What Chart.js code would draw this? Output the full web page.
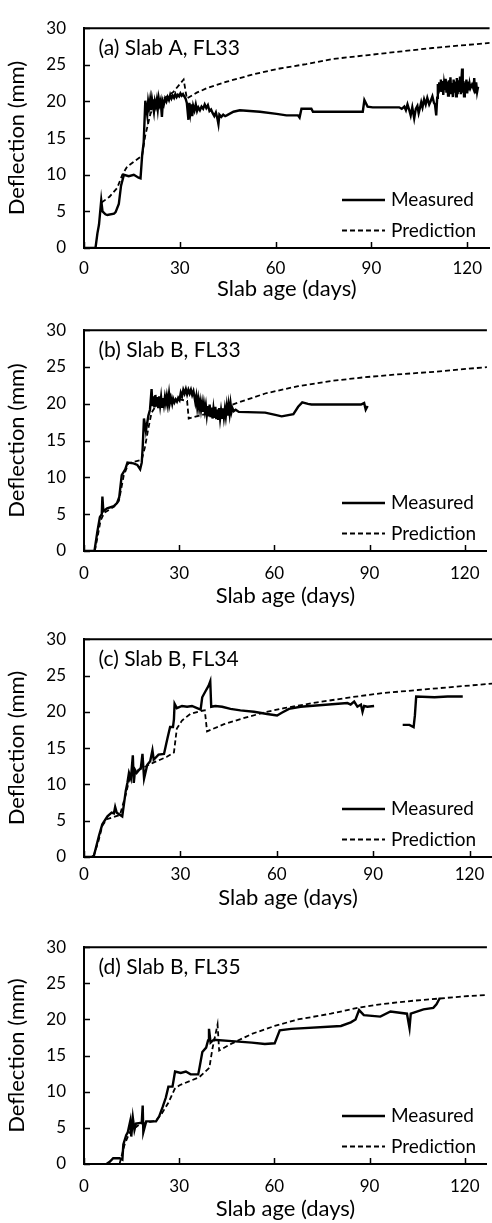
<!DOCTYPE html>
<html><head><meta charset="utf-8">
<script src="https://cdn.jsdelivr.net/npm/chart.js@4.4.0/dist/chart.umd.min.js"></script>
<style>
html,body{margin:0;padding:0;background:#fff;width:492px;height:1223px;overflow:hidden;position:relative}
.p{position:absolute;left:0;width:492px}
canvas{display:block}
</style></head><body>
<div class="p" style="top:0px"><canvas id="c0" width="492" height="302"></canvas></div>
<div class="p" style="top:302px"><canvas id="c1" width="492" height="307"></canvas></div>
<div class="p" style="top:611px"><canvas id="c2" width="492" height="300"></canvas></div>
<div class="p" style="top:919px"><canvas id="c3" width="492" height="303"></canvas></div>
<script>
const xTicks=[0,30,60,90,120];
const yTicks=[0,5,10,15,20,25,30];
const seriesLabels=['Measured','Prediction'];
const panelTitles=['(a) Slab A, FL33','(b) Slab B, FL33','(c) Slab B, FL34','(d) Slab B, FL35'];
const xTitle='Slab age (days)';
const yTitle='Deflection (mm)';

// (a) Slab A, FL33
const aMeasDay=[0,3.6,4.2,4.7,5.4,5.8,6.7,7.3,9.4,9.9,10.9,11.6,12.5,14.0,15.6,17.1,17.7,18.2,18.7,
19.2,19.8,20.1,20.4,20.7,21.0,21.3,21.6,21.9,22.2,22.5,22.8,23.1,23.4,23.7,24.0,24.4,24.7,25.0,25.4,25.8,26.2,26.6,27.0,27.4,27.8,28.2,28.6,29.0,29.4,29.8,30.2,30.6,31.0,31.4,31.8,
32.2,32.7,33.0,33.3,33.6,33.9,34.2,34.6,35.0,35.4,35.8,36.3,36.8,37.3,37.8,38.3,38.8,39.3,39.8,40.3,40.8,41.3,41.8,42.1,42.4,43.0,43.6,44.2,44.7,46.8,48.8,55.1,60.3,63.4,67.0,67.5,68.1,71.2,71.7,87.3,87.8,88.8,90.4,
98.7,99.5,100.3,100.8,101.3,101.8,102.3,102.8,103.4,103.9,104.4,104.8,105.2,105.6,106.0,106.5,107.0,107.5,108.1,108.6,109.1,109.6,109.9,110.3,110.6,110.8,
111.0,111.25,111.5,111.75,112.0,112.25,112.5,112.75,113.0,113.25,113.5,113.75,114.0,114.25,114.5,114.75,115.0,115.25,115.5,115.75,116.0,116.25,116.5,116.75,117.0,117.25,117.5,117.75,118.0,118.2,118.4,118.6,118.8,119.0,119.25,119.5,119.75,120.0,120.25,120.5,120.75,121.0,121.5,122.0,122.2,122.5,122.8,123.1,123.4];
const aMeas=[0,0,2.0,3.2,6.5,5.0,4.6,4.5,4.7,4.9,6.0,8.5,10.0,9.8,10.0,9.6,9.5,12.6,14.5,
20.1,18.2,20.0,19.2,20.2,18.8,20.3,19.5,18.6,20.0,19.4,20.2,19.0,20.4,19.6,20.1,17.9,20.0,19.6,20.4,20.0,20.6,20.2,20.9,20.4,20.8,20.5,21.0,20.6,20.9,20.7,21.1,20.8,21.0,20.7,20.4,
19.8,17.5,19.8,18.5,19.6,18.0,19.4,18.8,19.6,18.7,19.2,18.8,19.3,19.0,19.6,19.1,19.5,18.7,18.9,18.4,18.0,18.5,17.6,16.9,18.2,17.9,18.2,18.0,18.1,18.6,18.8,18.6,18.3,18.1,18.1,17.8,19.0,19.0,18.6,18.6,20.2,19.3,19.2,
19.2,19.0,19.3,18.8,19.6,18.9,18.1,19.2,17.7,19.0,19.4,18.4,19.1,19.9,19.2,20.3,19.6,20.5,19.6,20.1,20.7,19.8,19.6,18.1,20.5,22.4,
21.1,22.6,21.5,23.0,21.3,22.8,20.9,22.4,21.6,23.1,21.2,22.7,20.8,22.9,21.4,23.3,21.0,22.5,20.6,23.0,21.2,22.7,20.7,23.2,21.0,22.9,21.3,23.4,21.0,23.0,24.5,21.2,22.8,20.7,22.6,21.4,23.0,21.1,22.7,21.5,22.4,21.8,22.3,21.7,23.2,21.1,22.6,21.3,22.0];
const aPredDay=[5.5,8.0,10.4,12.0,13.5,16.0,18.2,19.2,20.8,22.3,25.0,28.0,31.2,32.2,35.3,38.4,44.7,53.0,61.3,69.6,77.9,88.3,98.7,109.1,119.5,127.4];
const aPred=[6.2,7.0,8.2,10.0,11.1,11.9,12.6,15.4,18.3,19.8,20.4,21.3,23.0,20.4,21.2,21.8,22.7,23.7,24.5,25.1,25.8,26.3,26.8,27.3,27.7,28.0];

// (b) Slab B, FL33
const bMeasDay=[0,3.3,4.2,5.0,5.6,5.8,6.1,7.3,9.4,10.4,11.1,11.9,13.0,13.7,15.6,16.8,17.7,18.2,18.5,18.9,19.5,
20.3,20.8,21.3,21.6,21.9,22.2,22.5,22.8,23.1,23.4,23.7,24.0,24.3,24.6,24.9,25.2,25.5,25.8,26.1,26.4,26.8,27.1,27.4,27.8,28.1,28.5,28.9,29.3,29.7,30.1,30.5,30.9,31.3,31.7,32.1,32.5,32.9,33.3,33.7,34.1,34.5,34.8,35.1,35.4,35.7,36.0,36.3,36.6,36.9,37.2,37.5,37.8,38.1,38.4,38.7,39.0,39.3,39.6,39.9,40.2,40.5,40.8,41.1,41.4,41.7,42.0,42.3,42.6,42.9,43.2,43.5,43.8,44.1,44.4,44.7,45.0,45.3,45.6,45.9,46.2,46.5,46.8,47.2,47.8,48.8,
57.1,60.3,62.3,66.0,67.5,68.8,70.6,71.7,87.3,88.3,88.8,89.4];
const bMeas=[0,0,2.6,4.6,5.0,7.4,5.4,5.8,6.1,6.5,7.3,10.3,11.1,12.0,11.9,11.7,11.1,12.0,14.1,18.0,16.3,
18.4,19.2,22.0,19.7,21.0,19.5,21.2,19.6,20.9,19.4,21.0,19.8,20.9,19.6,20.8,19.9,20.9,20.1,21.0,20.0,21.4,20.2,20.8,20.0,20.7,20.2,20.6,20.3,20.8,20.5,21.5,21.0,21.9,21.4,22.0,21.3,21.9,21.4,21.9,21.2,21.7,21.0,20.2,21.0,19.6,20.6,19.4,20.3,19.2,20.1,18.9,20.0,19.0,19.8,18.5,19.7,18.3,19.9,18.2,19.5,18.0,19.3,18.1,19.6,17.9,19.2,17.8,19.4,18.0,19.1,18.1,19.4,18.2,19.3,18.3,19.6,18.4,19.8,18.7,20.0,18.9,19.4,19.0,19.2,18.9,
18.8,18.5,18.3,18.6,19.6,20.2,20.0,19.9,19.9,20.1,19.2,19.7];
const bPredDay=[3.4,4.4,5.2,6.4,9.4,11.0,12.5,14.0,18.2,19.2,20.3,21.3,22.9,26.0,30.1,32.5,33.0,36.4,41.6,46.8,57.1,67.5,77.9,88.3,98.7,109.1,119.5,127.4];
const bPred=[0,2.2,4.1,5.2,6.0,6.8,10.2,11.9,12.4,14.1,16.7,18.8,19.9,20.3,20.6,20.4,18.0,18.4,19.0,19.9,21.4,22.4,23.1,23.6,24.0,24.3,24.7,25.0];

// (c) Slab B, FL34
const cMeasDay=[0,2.4,3.1,4.7,5.7,7.3,8.6,9.3,9.7,10.2,11.9,13.0,13.5,14.0,14.6,15.2,15.5,15.9,16.4,17.7,18.2,18.7,19.7,20.6,21.3,21.7,23.2,24.9,25.6,26.0,26.8,27.7,28.0,28.2,28.9,30.5,32.1,33.6,35.2,36.3,36.8,37.9,38.8,39.3,39.6,40.9,43.0,45.6,48.7,52.9,57.0,60.1,61.7,63.8,67.4,82.0,83.0,84.1,85.1,86.2,86.7,87.2,88.2,90.3,95,99.2,101.3,102.6,103.0,103.4,109.1,113.2,117.9];
const cMeas=[0,0,0.2,3.0,4.5,5.6,6.1,6.0,6.9,6.1,5.6,9.1,10.2,11.6,10.8,14.0,10.2,12.0,11.6,12.3,14.2,10.8,12.7,13.2,14.7,13.4,14.1,14.2,15.6,16.4,17.9,17.9,19.0,21.1,20.5,20.8,20.7,20.8,20.5,20.3,22.0,22.9,23.6,24.2,20.7,20.8,20.7,20.4,20.2,20.0,19.7,19.5,19.9,20.4,20.7,21.2,21.0,21.4,20.7,21.0,20.0,20.8,20.7,20.8,null,18.2,18.2,17.9,19.5,22.1,22.0,22.1,22.1];
const cPredDay=[2.9,4.5,5.7,7.1,11.2,13.0,14.5,17.5,21.6,25.8,28.0,28.9,30.5,33.1,36.2,37.6,38.3,43.6,48.7,56.0,62.2,72.6,83.0,93.4,103.9,114.3,127.4];
const cPred=[0,2.2,4.3,5.2,5.8,8.6,11.4,12.1,13.0,13.8,14.4,17.7,18.8,19.7,20.1,20.2,17.3,18.3,19.0,19.9,20.5,21.3,22.0,22.6,23.0,23.4,23.9];

// (d) Slab B, FL35
const dMeasDay=[7.1,8.1,9.2,11.2,12.1,12.4,13.3,13.8,14.6,14.9,15.4,15.9,16.4,18.2,18.5,18.7,19.6,22.7,23.7,24.8,25.8,26.6,27.9,28.7,30.5,32.1,33.6,36.0,36.4,37.3,38.5,39.1,39.4,39.9,40.9,46.6,52.9,57.0,60.1,61.7,65.3,81.0,84.1,85.6,86.7,88.2,93.4,96.6,101.8,102.6,103.0,107.0,110.1,111.1,112.2];
const dMeas=[0,0.3,0.8,0.8,0.6,2.7,4.0,4.4,6.0,3.8,6.4,4.7,5.6,5.7,8.1,4.4,5.9,5.9,6.6,7.9,9.2,10.7,10.7,12.8,12.6,12.8,12.4,12.4,13.3,15.5,16.1,17.1,18.7,16.8,17.2,17.0,16.8,16.6,16.7,18.5,18.7,19.1,19.6,20.0,21.3,20.6,20.4,21.1,20.8,18.8,20.8,21.4,21.6,22.1,23.0];
const dPredDay=[11.2,12.8,14.4,17.5,22.7,24.4,26.5,28.6,30.1,36.3,39.5,40.5,42.1,42.6,46.7,52.9,60.1,67.4,77.8,86.2,93.4,103.9,112.2,119.5,127.4];
const dPred=[0,2.7,4.4,5.5,6.0,6.9,8.4,10.4,10.9,12.0,13.3,16.0,19.3,15.7,16.7,18.0,19.1,20.0,20.8,21.6,22.1,22.6,22.9,23.2,23.4];

const FONT='Lato, "Open Sans", sans-serif';
const panels=[
  {id:'c0',title:panelTitles[0],md:aMeasDay,mv:aMeas,pd:aPredDay,pv:aPred,xh:54,lp:10},
  {id:'c1',title:panelTitles[1],md:bMeasDay,mv:bMeas,pd:bPredDay,pv:bPred,xh:58,lp:12.5},
  {id:'c2',title:panelTitles[2],md:cMeasDay,mv:cMeas,pd:cPredDay,pv:cPred,xh:54,lp:7.5},
  {id:'c3',title:panelTitles[3],md:dMeasDay,mv:dMeas,pd:dPredDay,pv:dPred,xh:58,lp:12.5}
];
const pts=(xs,ys)=>xs.map((x,i)=>({x:x,y:ys[i]}));

const framePlugin={
  id:'frame',
  afterDraw(chart,args,opts){
    const ctx=chart.ctx, ca=chart.chartArea;
    const xs=chart.scales.x, ys=chart.scales.y;
    ctx.save();
    ctx.strokeStyle='#000';
    ctx.lineWidth=2;
    ctx.beginPath();
    ctx.moveTo(ca.left-1,ca.top);ctx.lineTo(ca.right,ca.top);
    ctx.stroke();
    ctx.lineWidth=1.5;
    ctx.beginPath();
    xs.ticks.forEach(t=>{const px=Math.round(xs.getPixelForValue(t.value))+0.5;ctx.moveTo(px,ca.bottom);ctx.lineTo(px,ca.bottom-6);});
    ys.ticks.forEach(t=>{const py=Math.round(ys.getPixelForValue(t.value))+0.5;ctx.moveTo(ca.left,py);ctx.lineTo(ca.left+6,py);});
    ctx.stroke();
    ctx.fillStyle='#000';
    ctx.font='21px '+FONT;
    ctx.textBaseline='middle';
    ctx.textAlign='left';
    ctx.fillText(opts.text,ca.left+14.5,ca.top+20);
    const rows=[48,17.5];
    ctx.font='19px '+FONT;
    chart.data.datasets.forEach((ds,i)=>{
      const y=ca.bottom-rows[i];
      ctx.save();
      ctx.strokeStyle=ds.borderColor;
      ctx.lineWidth=ds.borderWidth;
      ctx.setLineDash(ds.borderDash||[]);
      ctx.beginPath();ctx.moveTo(492-150,y);ctx.lineTo(492-107,y);ctx.stroke();
      ctx.restore();
      ctx.fillText(ds.label,492-101,y);
    });
    ctx.restore();
  }
};

panels.forEach(p=>{
  new Chart(document.getElementById(p.id),{
    type:'line',
    data:{datasets:[
      {label:seriesLabels[0],data:pts(p.md,p.mv),borderColor:'#000',borderWidth:2.4,pointRadius:0,tension:0,spanGaps:false,fill:false},
      {label:seriesLabels[1],data:pts(p.pd,p.pv),borderColor:'#000',borderWidth:1.8,borderDash:[5,3],pointRadius:0,tension:0,fill:false}
    ]},
    options:{
      responsive:false,animation:false,devicePixelRatio:1,
      layout:{padding:{top:14,left:0,right:0,bottom:0}},
      plugins:{legend:{display:false},tooltip:{enabled:false},frame:{text:p.title}},
      scales:{
        x:{type:'linear',min:0,max:127,
          afterBuildTicks:s=>{s.ticks=xTicks.map(v=>({value:v}));},
          afterFit:s=>{s.height=p.xh;},
          grid:{display:false,drawTicks:false},
          border:{display:true,color:'#000',width:2},
          ticks:{padding:p.lp,color:'#000',font:{family:FONT,size:17},maxRotation:0,autoSkip:false},
          title:{display:true,text:xTitle,color:'#000',font:{family:FONT,size:22},padding:{top:0,bottom:0}}
        },
        y:{type:'linear',min:0,max:30,
          afterBuildTicks:s=>{s.ticks=yTicks.map(v=>({value:v}));},
          afterFit:s=>{s.width=84;},
          grid:{display:false,drawTicks:false},
          border:{display:true,color:'#000',width:2},
          ticks:{padding:18,color:'#000',font:{family:FONT,size:17}},
          title:{display:true,text:yTitle,color:'#000',font:{family:FONT,size:22},padding:{top:3.8,bottom:0}}
        }
      }
    },
    plugins:[framePlugin]
  });
});
</script>
</body></html>
